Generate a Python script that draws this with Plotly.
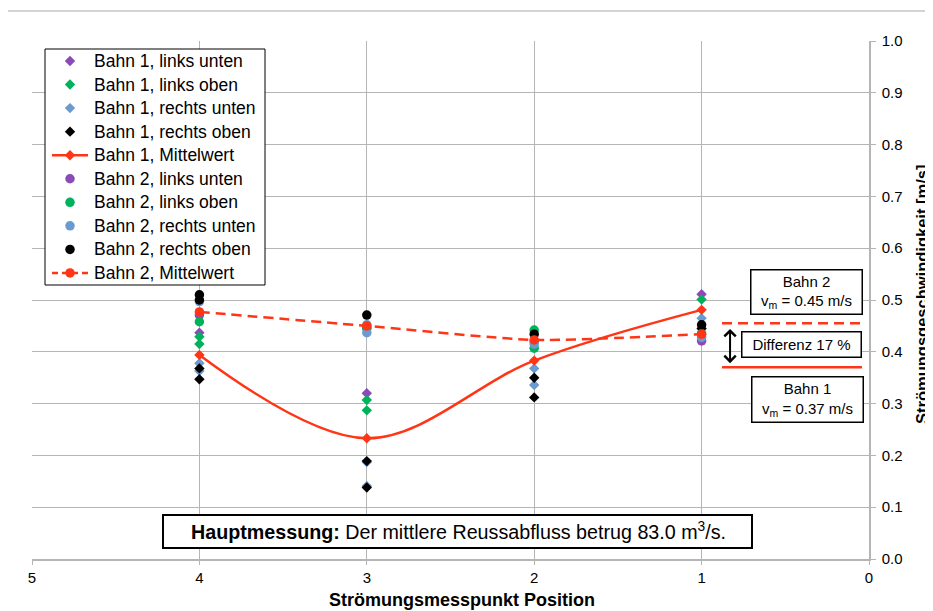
import plotly.graph_objects as go

# ---------------- data ----------------
positions = [4, 3, 2, 1]

b1_lu_x = [4, 3, 1]
b1_lu_y = [0.437, 0.320, 0.511]
b1_lo_x = [4, 4, 3, 3, 1]
b1_lo_y = [0.429, 0.415, 0.307, 0.287, 0.501]
b1_ru_x = [4, 4, 3, 3, 2, 2, 1]
b1_ru_y = [0.378, 0.363, 0.187, 0.141, 0.368, 0.336, 0.465]
b1_ro_x = [4, 4, 3, 3, 2, 2, 1]
b1_ro_y = [0.368, 0.347, 0.189, 0.138, 0.350, 0.312, 0.445]
b1_mean = [0.394, 0.233, 0.383, 0.481]

b2_lu_x = [4, 3, 2, 1]
b2_lu_y = [0.471, 0.447, 0.420, 0.421]
b2_lo_x = [4, 3, 2, 2, 1]
b2_lo_y = [0.458, 0.445, 0.442, 0.407, 0.435]
b2_ru_x = [4, 3, 3, 2, 1]
b2_ru_y = [0.497, 0.452, 0.437, 0.415, 0.428]
b2_ro_x = [4, 4, 3, 2, 1]
b2_ro_y = [0.510, 0.500, 0.471, 0.434, 0.452]
b2_mean = [0.477, 0.450, 0.423, 0.434]

series_names = [
    "Bahn 1, links unten", "Bahn 1, links oben", "Bahn 1, rechts unten",
    "Bahn 1, rechts oben", "Bahn 1, Mittelwert",
    "Bahn 2, links unten", "Bahn 2, links oben", "Bahn 2, rechts unten",
    "Bahn 2, rechts oben", "Bahn 2, Mittelwert",
]

vm_bahn1 = 0.37
vm_bahn2 = 0.455
vm_text1 = "0.37"
vm_text2 = "0.45"
diff_text = "17 %"
abfluss_text = "83.0"

x_ticks = [5, 4, 3, 2, 1, 0]
y_ticks = [0.0, 0.1, 0.2, 0.3, 0.4, 0.5, 0.6, 0.7, 0.8, 0.9, 1.0]

# ---------------- styles ----------------
FONT = "Liberation Sans, Arial, sans-serif"
PURPLE = "#8A4BB8"
GREEN = "#00B25C"
BLUE = "#6A9AD0"
BLACK = "#000000"
RED = "#FF3516"
GRID = "#B5B5B5"
DASH = "10px,6px"

# the page body has an 8px margin: the figure is drawn from (8, 8)
OFF = 8
PL, PT, PR, PB = 32, 41, 869, 559   # plot area in window pixels
PW, PH = PR - PL, PB - PT
FIG_W, FIG_H = 933 - OFF, 611 - OFF


def px(xw):
    return (xw - PL) / PW


def py(yw):
    return (PB - yw) / PH


D = 8      # diamond size
C = 9.5    # circle size

# (name, x, y, color, symbol, size, line dash or None)
series = [
    (series_names[0], b1_lu_x, b1_lu_y, PURPLE, "diamond", D, None),
    (series_names[1], b1_lo_x, b1_lo_y, GREEN, "diamond", D, None),
    (series_names[2], b1_ru_x, b1_ru_y, BLUE, "diamond", D, None),
    (series_names[3], b1_ro_x, b1_ro_y, BLACK, "diamond", D, None),
    (series_names[4], positions, b1_mean, RED, "diamond", D, "solid"),
    (series_names[5], b2_lu_x, b2_lu_y, PURPLE, "circle", C, None),
    (series_names[6], b2_lo_x, b2_lo_y, GREEN, "circle", C, None),
    (series_names[7], b2_ru_x, b2_ru_y, BLUE, "circle", C, None),
    (series_names[8], b2_ro_x, b2_ro_y, BLACK, "circle", C, None),
    (series_names[9], positions, b2_mean, RED, "circle", C, DASH),
]

fig = go.Figure()

for name, x, y, color, symbol, size, dash in series:
    if dash is None:
        fig.add_trace(go.Scatter(
            x=x, y=y, mode="markers", name=name, showlegend=False,
            marker=dict(color=color, symbol=symbol, size=size, line=dict(width=0)),
        ))
    else:
        fig.add_trace(go.Scatter(
            x=x, y=y, mode="lines+markers", name=name, showlegend=False,
            line=dict(color=color, width=2.5, dash=dash, shape="spline",
                      smoothing=1.0 if dash == "solid" else 0.6),
            marker=dict(color=color, symbol=symbol, size=size, line=dict(width=0)),
        ))

# ---------------- legend (drawn on an overlay axis, above the data) ----------------
LEG_L, LEG_R, LEG_T, LEG_B = 45, 265, 49, 285
ROW0, ROWSTEP = 61, 23.55
SYM_X, LINE_X0, LINE_X1, TEXT_X = 70, 52, 88, 92

lx0, lx1, ly0, ly1 = px(LEG_L), px(LEG_R), py(LEG_B), py(LEG_T)
fig.add_trace(go.Scatter(
    x=[lx0, lx1, lx1, lx0, lx0], y=[ly0, ly0, ly1, ly1, ly0],
    mode="lines", fill="toself", fillcolor="white",
    line=dict(color="black", width=1), xaxis="x2", yaxis="y2",
    hoverinfo="skip", showlegend=False,
))

annotations = []
for i, (name, x, y, color, symbol, size, dash) in enumerate(series):
    ry = py(ROW0 + i * ROWSTEP)
    if dash is not None:
        fig.add_trace(go.Scatter(
            x=[px(LINE_X0), px(LINE_X1)], y=[ry, ry], mode="lines",
            line=dict(color=color, width=2.5, dash=("6px,4px" if dash != "solid" else "solid")),
            xaxis="x2", yaxis="y2", hoverinfo="skip", showlegend=False,
        ))
    fig.add_trace(go.Scatter(
        x=[px(SYM_X)], y=[ry], mode="markers",
        marker=dict(color=color, symbol=symbol, size=size, line=dict(width=0)),
        xaxis="x2", yaxis="y2", hoverinfo="skip", showlegend=False,
    ))
    annotations.append(dict(
        text=name, showarrow=False, xref="paper", yref="paper",
        x=px(TEXT_X), y=ry, xanchor="left", yanchor="middle",
        font=dict(family=FONT, size=17.5, color="black"),
    ))

# ---------------- reference lines on the right ----------------
fig.add_shape(type="line", xref="x", yref="y", x0=0.878, x1=0.042,
              y0=vm_bahn2, y1=vm_bahn2,
              line=dict(color=RED, width=2.5, dash=DASH))
fig.add_shape(type="line", xref="x", yref="y", x0=0.878, x1=0.042,
              y0=vm_bahn1, y1=vm_bahn1,
              line=dict(color=RED, width=2.5))

# chart outer border (cut by the picture edges)
fig.add_shape(type="rect", xref="paper", yref="paper",
              x0=px(7), x1=px(960), y0=py(640), y1=py(11),
              line=dict(color="#A8A8A8", width=1), layer="below")

# double arrow
annotations.append(dict(
    x=0.83, y=vm_bahn1 + 0.008, ax=0.83, ay=vm_bahn2 - 0.008,
    xref="x", yref="y", axref="x", ayref="y",
    text="", showarrow=True, arrowhead=4, startarrowhead=4,
    arrowside="end+start", arrowsize=1.1, arrowwidth=2, arrowcolor="black",
))
box = dict(showarrow=False, bgcolor="white", bordercolor="black",
           borderwidth=1.5, font=dict(family=FONT, size=15, color="black"))
annotations.append(dict(box, x=0.373, y=0.516, xref="x", yref="y",
                        text="Bahn 2<br>v<sub>m</sub> = " + vm_text2 + " m/s",
                        width=108, height=41, borderpad=1))
annotations.append(dict(box, x=0.403, y=0.414, xref="x", yref="y",
                        text="Differenz " + diff_text,
                        width=116, height=22, borderpad=1))
annotations.append(dict(box, x=0.370, y=0.307, xref="x", yref="y",
                        text="Bahn 1<br>v<sub>m</sub> = " + vm_text1 + " m/s",
                        width=108, height=42, borderpad=1))
# bottom note: box as a shape, text as a plain annotation
fig.add_shape(type="rect", xref="paper", yref="paper",
              x0=px(163), x1=px(752), y0=py(548), y1=py(515),
              fillcolor="white", line=dict(color="black", width=2), layer="above")
annotations.append(dict(x=px(458), y=py(531), xref="paper", yref="paper",
                        xanchor="center", yanchor="middle", showarrow=False,
                        text="<b>Hauptmessung:</b> Der mittlere Reussabfluss betrug "
                             + abfluss_text + " m<sup>3</sup>/s.",
                        font=dict(family=FONT, size=19.7, color="black")))
# axis titles
annotations.append(dict(text="<b>Strömungsmesspunkt Position</b>", showarrow=False,
                        xref="paper", yref="paper", x=px(462), y=py(600),
                        xanchor="center", yanchor="middle",
                        font=dict(family=FONT, size=18, color="black")))
annotations.append(dict(text="<b>Strömungsgeschwindigkeit [m/s]</b>", showarrow=False,
                        xref="paper", yref="paper", x=px(922), y=py(294),
                        xanchor="center", yanchor="middle", textangle=-90,
                        font=dict(family=FONT, size=16.5, color="black")))

fig.update_layout(
    width=FIG_W, height=FIG_H,
    margin=dict(l=PL - OFF, r=FIG_W - (PR - OFF), t=PT - OFF, b=FIG_H - (PB - OFF)),
    paper_bgcolor="white", plot_bgcolor="white",
    font=dict(family=FONT, size=15, color="black"),
    showlegend=False,
    annotations=annotations,
    xaxis=dict(range=[5, 0], tickvals=x_ticks, ticktext=[str(v) for v in x_ticks],
               showgrid=True, gridcolor=GRID, gridwidth=1,
               showline=True, linecolor=GRID, linewidth=1.5,
               ticks="outside", ticklen=4, tickcolor=GRID,
               tickfont=dict(family=FONT, size=15, color="black"),
               zeroline=False),
    yaxis=dict(range=[0, 1], side="right", tickvals=y_ticks,
               ticktext=["%.1f" % v for v in y_ticks],
               showgrid=True, gridcolor=GRID, gridwidth=1,
               showline=True, linecolor=GRID, linewidth=1.5,
               ticks="outside", ticklen=5, tickcolor=GRID,
               tickfont=dict(family=FONT, size=15, color="black"),
               ticklabelstandoff=3, zeroline=False),
    xaxis2=dict(overlaying="x", anchor="y2", range=[0, 1], visible=False, fixedrange=True),
    yaxis2=dict(overlaying="y", anchor="x2", range=[0, 1], visible=False, fixedrange=True),
)

fig.write_html("out.html")
